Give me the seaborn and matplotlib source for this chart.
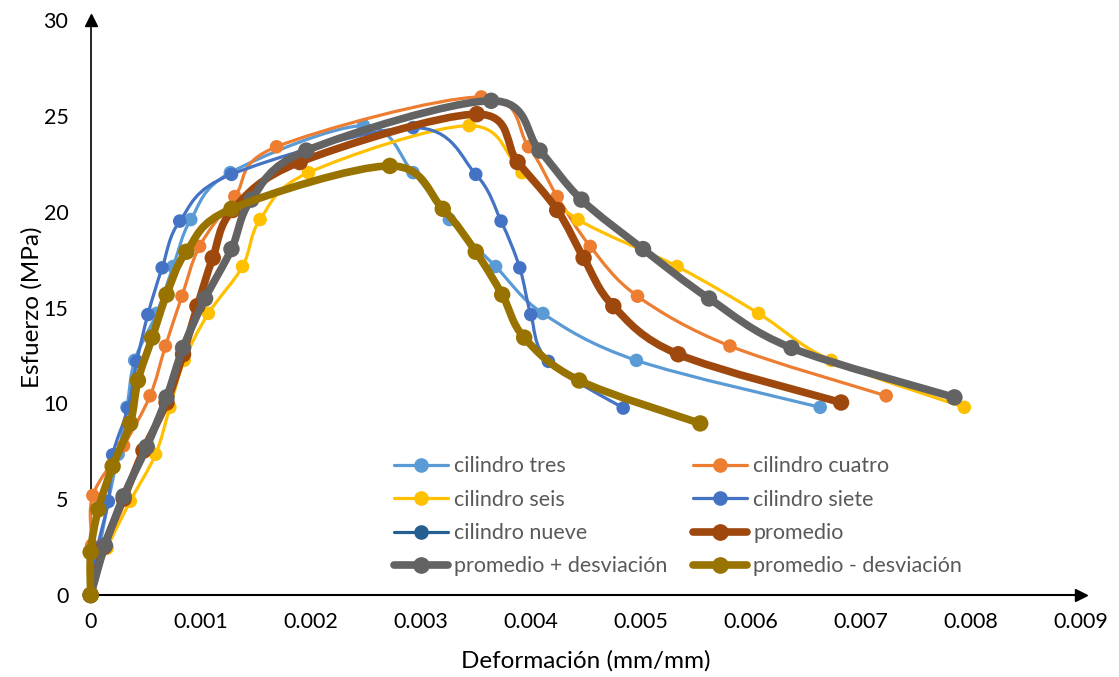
import numpy as np
import pandas as pd
import seaborn as sns
import matplotlib
matplotlib.use("Agg")
import matplotlib.pyplot as plt
from matplotlib.path import Path
from matplotlib.patches import PathPatch
from matplotlib.lines import Line2D

# Stress-strain data per specimen (strain in mm/mm, stress in MPa)
tres_x = [0, 0.00008, 0.00016, 0.00025, 0.00033, 0.0004, 0.0006, 0.00075, 0.00091, 0.00127,
          0.00248, 0.00293, 0.00326, 0.00368, 0.00411, 0.00496, 0.00663]
tres_y = [0, 2.45, 4.9, 7.35, 9.8, 12.25, 14.7, 17.15, 19.6, 22.05,
          24.5, 22.05, 19.6, 17.15, 14.7, 12.25, 9.8]

cuatro_x = [0, 0.00001, 0.00002, 0.0003, 0.00054, 0.00068, 0.00083, 0.00099, 0.00131, 0.00169,
            0.00355, 0.00398, 0.00424, 0.00454, 0.00497, 0.00581, 0.00723]
cuatro_y = [0, 2.6, 5.2, 7.8, 10.4, 13.0, 15.6, 18.2, 20.8, 23.4,
            26.0, 23.4, 20.8, 18.2, 15.6, 13.0, 10.4]

seis_x = [0, 0.00015, 0.00036, 0.00059, 0.00072, 0.00085, 0.00107, 0.00138, 0.00154, 0.00198,
          0.00344, 0.00392, 0.00443, 0.00533, 0.00607, 0.00673, 0.00794]
seis_y = [0, 2.45, 4.9, 7.35, 9.8, 12.25, 14.7, 17.15, 19.6, 22.05,
          24.5, 22.05, 19.6, 17.15, 14.7, 12.25, 9.8]

siete_x = [0, 0.00006, 0.00016, 0.0002, 0.00034, 0.00042, 0.00052, 0.00065, 0.00081, 0.00128,
           0.00293, 0.0035, 0.00373, 0.0039, 0.004, 0.00416, 0.00484]
siete_y = [0, 2.44, 4.88, 7.32, 9.76, 12.2, 14.64, 17.08, 19.52, 21.96,
           24.4, 21.96, 19.52, 17.08, 14.64, 12.2, 9.76]

nueve_x = []
nueve_y = []

prom_x = [0, 0.00012, 0.0003, 0.00048, 0.00069, 0.00084, 0.00097, 0.00111, 0.00129, 0.0019,
          0.00351, 0.00388, 0.00424, 0.00448, 0.00475, 0.00534, 0.00682]
prom_y = [0, 2.51, 5.03, 7.54, 10.05, 12.57, 15.08, 17.6, 20.1, 22.6,
          25.1, 22.6, 20.1, 17.6, 15.08, 12.57, 10.05]

mas_x = [0, 0.00013, 0.0003, 0.00051, 0.00069, 0.00084, 0.00104, 0.00128, 0.00146, 0.00196,
         0.00364, 0.00408, 0.00446, 0.00502, 0.00562, 0.00637, 0.00785]
mas_y = [0, 2.58, 5.16, 7.74, 10.32, 12.9, 15.48, 18.06, 20.64, 23.2,
         25.8, 23.2, 20.64, 18.06, 15.48, 12.9, 10.32]

menos_x = [0, 0.0, 0.00007, 0.0002, 0.00036, 0.00043, 0.00056, 0.00069, 0.00087, 0.00128,
           0.00272, 0.0032, 0.0035, 0.00374, 0.00394, 0.00444, 0.00554]
menos_y = [0, 2.24, 4.48, 6.72, 8.96, 11.2, 13.44, 15.68, 17.92, 20.16,
           22.4, 20.16, 17.92, 15.68, 13.44, 11.2, 8.96]

labels = ["cilindro tres", "cilindro cuatro", "cilindro seis", "cilindro siete",
          "cilindro nueve", "promedio", "promedio + desviación", "promedio - desviación"]
colors = ["#5B9BD5", "#ED7D31", "#FFC000", "#4472C4",
          "#255E91", "#9E480E", "#636363", "#997300"]
x_ticks = [0, 0.001, 0.002, 0.003, 0.004, 0.005, 0.006, 0.007, 0.008, 0.009]
x_tick_labels = ["0", "0.001", "0.002", "0.003", "0.004", "0.005", "0.006", "0.007", "0.008", "0.009"]
y_ticks = [0, 5, 10, 15, 20, 25, 30]

series = [(tres_x, tres_y), (cuatro_x, cuatro_y), (seis_x, seis_y), (siete_x, siete_y),
          (nueve_x, nueve_y), (prom_x, prom_y), (mas_x, mas_y), (menos_x, menos_y)]
thick = [False, False, False, False, False, True, True, True]

frames = []
for lab, (xs, ys) in zip(labels, series):
    frames.append(pd.DataFrame({"strain": xs, "stress": ys, "serie": lab}))
df = pd.concat(frames, ignore_index=True)

sns.set_theme(style="white")
plt.rcParams["font.family"] = ["Lato", "DejaVu Sans"]


def smooth_path(xs, ys):
    """Catmull-Rom curve through the points, drawn as cubic Bezier segments."""
    pts = np.column_stack([xs, ys]).astype(float)
    n = len(pts)
    verts = [pts[0]]
    codes = [Path.MOVETO]
    for i in range(n - 1):
        p0 = pts[i - 1] if i > 0 else pts[i]
        p1 = pts[i]
        p2 = pts[i + 1]
        p3 = pts[i + 2] if i + 2 < n else pts[i + 1]
        verts += [p1 + (p2 - p0) / 6.0, p2 - (p3 - p1) / 6.0, p2]
        codes += [Path.CURVE4] * 3
    return Path(verts, codes)


fig = plt.figure(figsize=(11.19, 6.77), dpi=100)
ax = fig.add_axes([0.081, 0.121, 0.885, 0.849])

for k, lab in enumerate(labels):
    sub = df[df["serie"] == lab]
    lw = 5.5 if thick[k] else 2.3
    ms = 140 if thick[k] else 95
    z = 3 + k
    if len(sub) > 1:
        patch = PathPatch(smooth_path(sub["strain"].values, sub["stress"].values),
                          facecolor="none", edgecolor=colors[k], lw=lw,
                          capstyle="round", joinstyle="round", zorder=z, clip_on=False)
        ax.add_patch(patch)
    if len(sub) > 0:
        sns.scatterplot(data=sub, x="strain", y="stress", color=colors[k], s=ms,
                        edgecolor="none", linewidth=0, ax=ax, zorder=z + 0.5,
                        clip_on=False, legend=False)

ax.set_xlim(0, 0.009)
ax.set_ylim(0, 30)
ax.set_xticks(x_ticks)
ax.set_xticklabels(x_tick_labels)
ax.set_yticks(y_ticks)
ax.tick_params(axis="both", length=0, labelsize=15.5, colors="black")
ax.tick_params(axis="x", pad=12)
ax.tick_params(axis="y", pad=16)
ax.set_xlabel("Deformación (mm/mm)", fontsize=17.5, color="black", labelpad=13)
ax.set_ylabel("Esfuerzo (MPa)", fontsize=17.5, color="black", labelpad=1)

for side in ["top", "right"]:
    ax.spines[side].set_visible(False)
ax.spines["left"].set_color("black")
ax.spines["bottom"].set_color("black")
ax.spines["left"].set_linewidth(1.2)
ax.spines["bottom"].set_linewidth(1.5)
ax.plot(1, 0, ">", color="black", markersize=9, transform=ax.transAxes, clip_on=False, zorder=20)
ax.plot(0, 1, "^", color="black", markersize=9, transform=ax.transAxes, clip_on=False, zorder=20)

handles = [Line2D([0], [0], color=c, lw=(5.5 if t else 2.3), marker="o",
                  markersize=(11 if t else 9.5), solid_capstyle="round")
           for c, t in zip(colors, thick)]
order = [0, 2, 4, 6, 1, 3, 5, 7]
leg = ax.legend([handles[i] for i in order], [labels[i] for i in order], ncol=2,
                loc="upper left", bbox_to_anchor=(375 / 1119, 1 - 437 / 677),
                bbox_transform=fig.transFigure, frameon=False, fontsize=15.5,
                handlelength=2.5, handletextpad=0.28, labelspacing=0.62,
                columnspacing=1.2)
for t in leg.get_texts():
    t.set_color("#595959")

fig.savefig("out.png", dpi=100)
